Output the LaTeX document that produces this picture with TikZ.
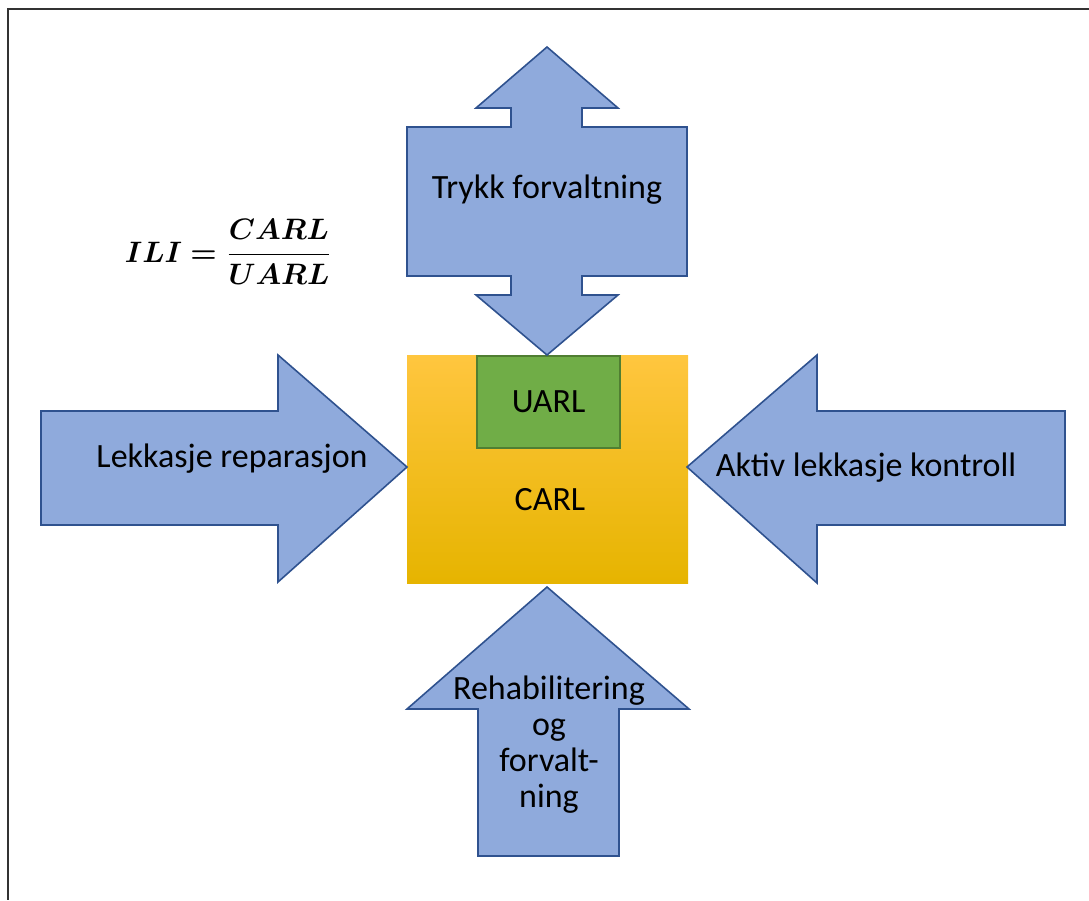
\documentclass[tikz,border=0pt]{standalone}
\usepackage{fontspec}
\setmainfont{Carlito}
\usepackage{amsmath}
\usepackage{bm}
\usepackage{graphicx}

\definecolor{arrowfill}{HTML}{8FAADC}
\definecolor{arrowline}{HTML}{2F528F}
\definecolor{uarlfill}{HTML}{70AD47}
\definecolor{uarlline}{HTML}{507E32}
\definecolor{carltop}{HTML}{FFC63F}
\definecolor{carlmid}{HTML}{FFC000}
\definecolor{carlbot}{HTML}{E6B400}

\begin{document}
\begin{tikzpicture}[x=1pt, y=-1pt,
  blockarrow/.style={fill=arrowfill, draw=arrowline, line width=1.6pt, line join=miter},
  arrowtext/.style={font=\fontsize{34}{36}\selectfont, align=center}]
\useasboundingbox (0,0) rectangle (1089,900);
\draw [line width=2pt, black!80] (1089,9) -- (8,9) -- (8,900);

% CARL box
\shade [top color=carltop, middle color=carlmid, bottom color=carlbot] (407,355) rectangle (688,583);
\node (uarl) [draw=uarlline, fill=uarlfill, line width=1.6pt, minimum width=143pt, minimum height=92pt, font=\fontsize{34}{36}\selectfont] at (548.5,402) {UARL};
\node (carl) [font=\fontsize{34}{36}\selectfont] at (550,500) {CARL};

% top, double
\draw [blockarrow] (547,47) -- (618,108) -- (582,108) -- (582,127) -- (687,127) -- (687,276) -- (582,276) -- (582,295) -- (618,295) -- (547,355) -- (476,295) -- (511,295) -- (511,276) -- (407,276) -- (407,127) -- (511,127) -- (511,108) -- (476,108) -- cycle;
\node (trykk) [arrowtext] at (547,190) {Trykk forvaltning};

% left
\draw [blockarrow] (41,411) -- (278,411) -- (278,355) -- (407,467) -- (278,582) -- (278,525) -- (41,525) -- cycle;
\node (reparasjon) [arrowtext] at (232,459) {Lekkasje reparasjon};

% right
\draw [blockarrow] (1065,411) -- (817,411) -- (817,355) -- (687,467) -- (817,583) -- (817,525) -- (1065,525) -- cycle;
\node (kontroll) [arrowtext] at (866,468) {Aktiv lekkasje kontroll};

% bottom
\draw [blockarrow] (547,587) -- (689,709) -- (619,709) -- (619,856) -- (478,856) -- (478,709) -- (407,709) -- cycle;
\node (rehab) [arrowtext] at (549,745) {Rehabilitering\\og\\forvalt-\\ning};

\node (ili) at (229,252) {\resizebox{208pt}{!}{$\bm{ILI = \dfrac{CARL}{UARL}}$}};
\end{tikzpicture}
\end{document}
